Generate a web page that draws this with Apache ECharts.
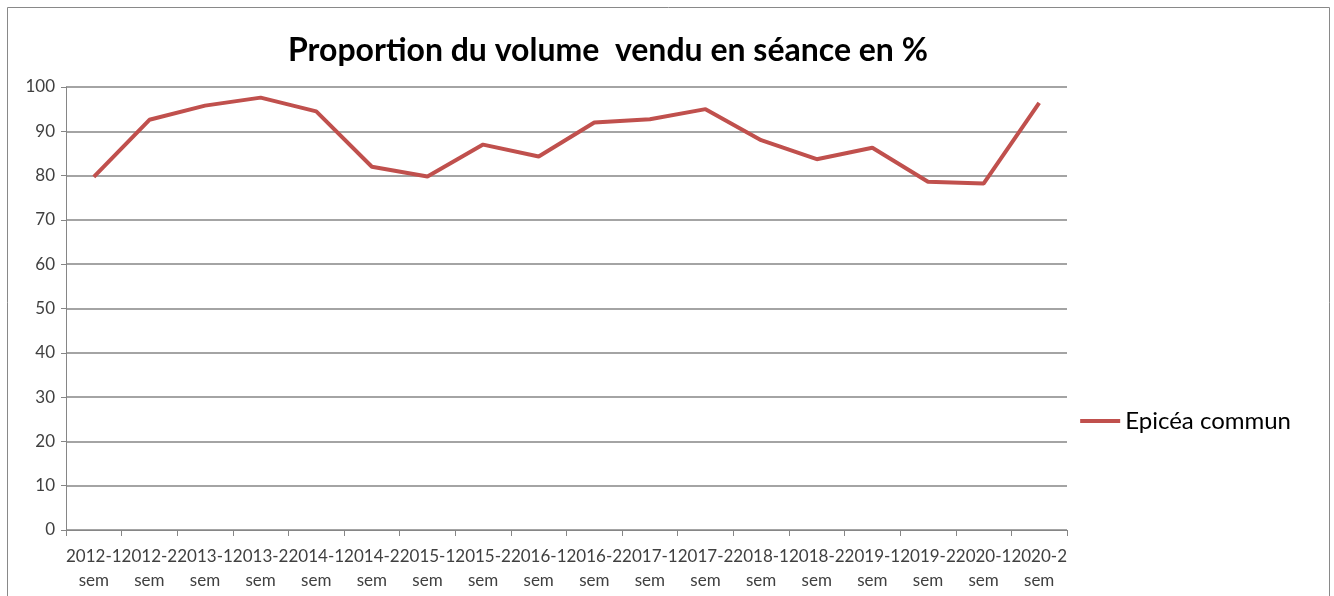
<!DOCTYPE html>
<html>
<head>
<meta charset="utf-8">
<script src="https://cdn.jsdelivr.net/npm/echarts@6/dist/echarts.min.js"></script>
<style>
  html, body { margin: 0; padding: 0; background: #fff; }
  #chart { width: 1334px; height: 596px; }
</style>
</head>
<body>
<div id="chart"></div>
<script>
// semestres
const categories = [
  '2012-1 sem', '2012-2 sem', '2013-1 sem', '2013-2 sem', '2014-1 sem', '2014-2 sem',
  '2015-1 sem', '2015-2 sem', '2016-1 sem', '2016-2 sem', '2017-1 sem', '2017-2 sem',
  '2018-1 sem', '2018-2 sem', '2019-1 sem', '2019-2 sem', '2020-1 sem', '2020-2 sem'
];
const epicea = [79.7, 92.6, 95.8, 97.6, 94.5, 82.0, 79.8, 87.0, 84.3, 92.0, 92.7, 95.0, 88.0, 83.7, 86.3, 78.6, 78.2, 96.4];
const yTicks = [0, 10, 20, 30, 40, 50, 60, 70, 80, 90, 100];

let chart = echarts.init(document.getElementById('chart'));
let font = 'Lato, "Open Sans", sans-serif';
let option = {
  backgroundColor: '#fff',
  animation: false,
  graphic: [{
    type: 'rect',
    shape: { x: 7.5, y: 7.5, width: 1322, height: 600 },
    style: { fill: 'none', stroke: '#898989', lineWidth: 1 },
    silent: true
  }],
  title: {
    text: 'Proportion du volume  vendu en séance en %',
    left: 283,
    top: 30,
    textStyle: { fontFamily: font, fontSize: 32, fontWeight: 'bold', color: '#000' }
  },
  legend: {
    right: 38,
    top: 404,
    itemWidth: 40,
    itemHeight: 4,
    icon: 'rect',
    itemGap: 6,
    textStyle: { fontFamily: font, fontSize: 24, color: '#000' },
    data: ['Epicéa commun']
  },
  grid: { left: 66, right: 267, top: 87, bottom: 66 },
  xAxis: {
    type: 'category',
    data: categories,
    boundaryGap: true,
    axisLine: { lineStyle: { color: '#868686', width: 1 } },
    axisTick: { show: true, length: 6, alignWithLabel: false, lineStyle: { color: '#868686' } },
    axisLabel: {
      interval: 0,
      margin: 15,
      color: '#404040',
      fontFamily: font,
      fontSize: 17,
      lineHeight: 24,
      formatter: v => v.replace(' ', '\n')
    }
  },
  yAxis: {
    type: 'value',
    min: yTicks[0],
    max: yTicks[yTicks.length - 1],
    interval: 10,
    axisLine: { show: true, lineStyle: { color: '#868686', width: 1 } },
    axisTick: { show: true, length: 5, lineStyle: { color: '#868686' } },
    axisLabel: { color: '#404040', fontFamily: font, fontSize: 17, margin: 11 },
    splitLine: { lineStyle: { color: '#868686', width: 1.5 } }
  },
  series: [{
    name: 'Epicéa commun',
    type: 'line',
    data: epicea,
    symbol: 'none',
    color: '#C0504D',
    lineStyle: { width: 4, color: '#C0504D' }
  }]
};
chart.setOption(option);
window.addEventListener('resize', () => { chart.resize(); });
</script>
</body>
</html>
